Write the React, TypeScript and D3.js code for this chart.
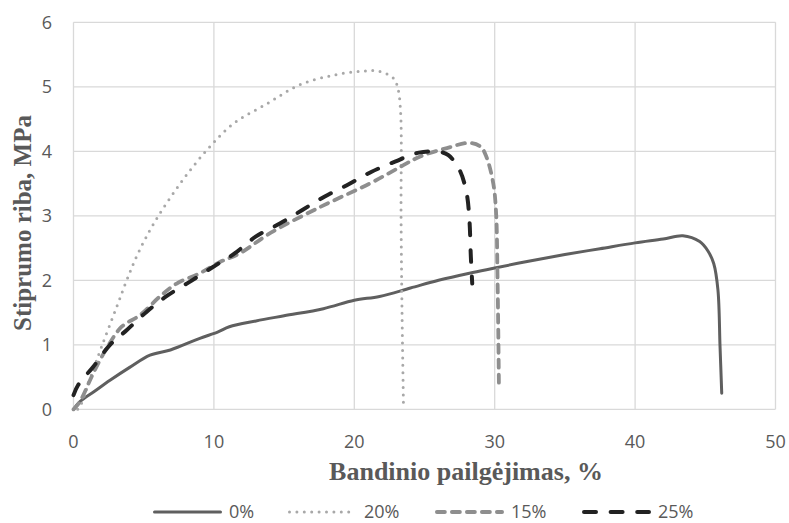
import React from "react";
import * as d3 from "d3";

const xTicks = [0, 10, 20, 30, 40, 50];
const yTicks = [0, 1, 2, 3, 4, 5, 6];

const x0 = [0, 0.46, 1.5, 2.6, 4, 5.45, 6.9, 9.0, 10.3, 11.1, 13, 15, 17.8, 20, 21.8, 24, 26, 28.2, 30, 32.5, 35, 37.5, 40, 42, 43.4, 44.6, 45.2, 45.6, 45.9, 46.05, 46.17];
const y0 = [0, 0.12, 0.28, 0.45, 0.65, 0.84, 0.92, 1.1, 1.2, 1.28, 1.37, 1.45, 1.56, 1.69, 1.75, 1.88, 2.0, 2.11, 2.19, 2.3, 2.4, 2.49, 2.58, 2.64, 2.69, 2.6, 2.45, 2.26, 1.85, 0.97, 0.25];

const x20 = [0.3, 0.46, 1.2, 2.0, 3.08, 3.79, 4.6, 5.8, 7.6, 9.5, 11.4, 13.8, 16.1, 18.5, 20.5, 21.8, 22.8, 23.1, 23.3, 23.33, 23.4, 23.5];
const y20 = [0, 0.04, 0.49, 0.97, 1.59, 2.0, 2.42, 2.91, 3.5, 4.02, 4.43, 4.74, 5.03, 5.18, 5.24, 5.24, 5.13, 4.98, 4.6, 3.0, 1.5, 0.09];

const x15 = [0, 0.46, 1.41, 2.37, 3.43, 4.74, 6.16, 7.35, 9.0, 10.4, 11.86, 14.0, 17.6, 21.1, 23.3, 24.7, 26.6, 28.2, 29.0, 29.4, 29.9, 30.1, 30.2, 30.3];
const y15 = [0, 0.12, 0.56, 0.95, 1.28, 1.46, 1.75, 1.95, 2.11, 2.28, 2.42, 2.73, 3.14, 3.5, 3.76, 3.92, 4.05, 4.13, 4.07, 3.92, 3.5, 3.04, 2.06, 0.38];

const x25 = [0, 0.34, 1.41, 2.6, 3.8, 5.2, 6.6, 8.3, 9.96, 11.5, 13.0, 14.7, 16.3, 17.9, 19.6, 21.2, 22.9, 24.6, 26.1, 26.7, 27.5, 28.0, 28.2, 28.3, 28.4];
const y25 = [0.22, 0.38, 0.66, 1.0, 1.23, 1.51, 1.75, 1.98, 2.21, 2.42, 2.68, 2.88, 3.09, 3.3, 3.49, 3.68, 3.84, 3.98, 3.99, 3.94, 3.71, 3.35, 2.93, 2.37, 1.95];

const seriesNames = ["0%", "20%", "15%", "25%"];

export default function App() {
  const W = 789, H = 523;
  const left = 73.5, right = 775.5, top = 22.3, bottom = 409.3;
  const x = d3.scaleLinear().domain([0, 50]).range([left, right]);
  const y = d3.scaleLinear().domain([0, 6]).range([bottom, top]);

  const styles = [
    { color: "#5f5f5f", width: 3, dash: undefined as string | undefined, cap: "round" },
    { color: "#a8a8a8", width: 3, dash: "0 7.4", cap: "round" },
    { color: "#8e8e8e", width: 3.8, dash: "8 7", cap: "round" },
    { color: "#222222", width: 4, dash: "12 14.6", cap: "round" },
  ];
  const xs = [x0, x20, x15, x25];
  const ys = [y0, y20, y15, y25];

  const line = d3
    .line<[number, number]>()
    .x((d) => x(d[0]))
    .y((d) => y(d[1]))
    .curve(d3.curveCatmullRom.alpha(0.5));

  const legendX = [153, 288, 435, 582];
  const legendLen = 69;
  const legendY = 512;
  const font = "'Open Sans', sans-serif";
  const tc = "#595959";

  return (
    <svg width={W} height={H} style={{ position: "absolute", left: 0, top: 0, background: "#fff" }}>
      {yTicks.map((t) => (
        <line key={"gy" + t} x1={left} x2={right} y1={y(t)} y2={y(t)} stroke="#d9d9d9" strokeWidth={1.3} />
      ))}
      {xTicks.map((t) => (
        <line key={"gx" + t} x1={x(t)} x2={x(t)} y1={top} y2={bottom} stroke="#d9d9d9" strokeWidth={1.3} />
      ))}
      {yTicks.map((t) => (
        <text key={"ty" + t} x={52} y={y(t)} dy="0.36em" textAnchor="end" fontFamily={font} fontSize={18} fill={tc}>
          {t}
        </text>
      ))}
      {xTicks.map((t) => (
        <text key={"tx" + t} x={x(t)} y={448} textAnchor="middle" fontFamily={font} fontSize={18} fill={tc}>
          {t}
        </text>
      ))}
      {xs.map((xa, i) => {
        const pts: [number, number][] = xa.map((v, j) => [v, ys[i][j]]);
        const s = styles[i];
        return (
          <path
            key={"s" + i}
            d={line(pts) || ""}
            fill="none"
            stroke={s.color}
            strokeWidth={s.width}
            strokeDasharray={s.dash}
            strokeLinecap={s.cap as any}
            strokeLinejoin="round"
          />
        );
      })}
      <text x={466} y={480} textAnchor="middle" fontFamily="'Liberation Serif', 'Times New Roman', serif" fontWeight="bold" fontSize={26} fill={tc}>
        Bandinio pailgėjimas, %
      </text>
      <text
        transform={`translate(31,223) rotate(-90)`}
        textAnchor="middle"
        fontFamily="'Liberation Serif', 'Times New Roman', serif"
        fontWeight="bold"
        fontSize={25}
        fill={tc}
      >
        Stiprumo riba, MPa
      </text>
      {seriesNames.map((n, i) => {
        const s = styles[i];
        return (
          <g key={"l" + i}>
            <line
              x1={legendX[i] + s.width / 2}
              x2={legendX[i] + legendLen - s.width / 2}
              y1={legendY}
              y2={legendY}
              stroke={s.color}
              strokeWidth={s.width}
              strokeDasharray={s.dash}
              strokeLinecap={s.cap as any}
            />
            <text x={legendX[i] + legendLen + 7} y={legendY} dy="0.36em" fontFamily={font} fontSize={18} fill={tc}>
              {n}
            </text>
          </g>
        );
      })}
    </svg>
  );
}
